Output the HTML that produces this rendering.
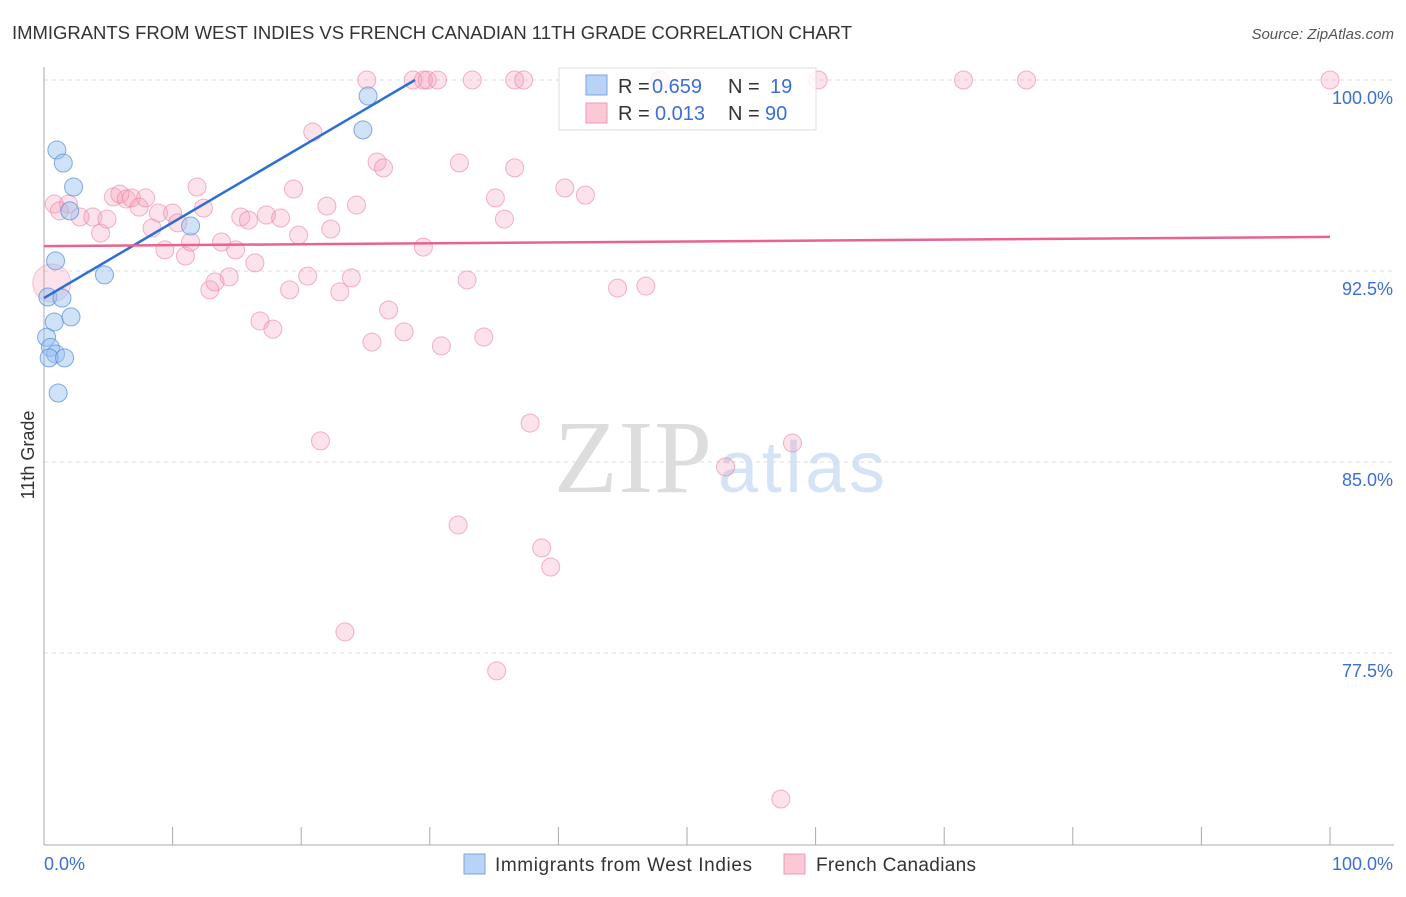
<!DOCTYPE html>
<html><head><meta charset="utf-8"><style>
body{margin:0;background:#fff;font-family:"Liberation Sans",sans-serif}
svg text{font-family:"Liberation Sans",sans-serif}
</style></head><body>
<svg width="1406" height="892" viewBox="0 0 1406 892">
<text x="12" y="39" font-size="18.5" fill="#333" textLength="840">IMMIGRANTS FROM WEST INDIES VS FRENCH CANADIAN 11TH GRADE CORRELATION CHART</text>
<text x="1394" y="39" font-size="15" fill="#555" font-style="italic" text-anchor="end">Source: ZipAtlas.com</text>
<text x="712" y="492" font-size="104" fill="#ddd" text-anchor="end" style="font-family:'Liberation Serif',serif" textLength="158">ZIP</text>
<text x="718" y="492" font-size="72" fill="#d4e3f5" textLength="167">atlas</text>
<g id="grid"></g>
<g id="axes"></g>
<g id="pts"></g>
<g id="lines"></g>
<text transform="translate(34,455) rotate(-90)" font-size="18" fill="#333" text-anchor="middle">11th Grade</text>
<text x="44" y="870" font-size="18" fill="#3b6fd4">0.0%</text>
<text x="1393" y="870" font-size="18" fill="#3b6fd4" text-anchor="end">100.0%</text>
<g>
<rect x="559" y="68" width="257" height="62" fill="rgba(255,255,255,0.8)" stroke="#ddd"/>
<rect x="586" y="75" width="21" height="20" fill="#b8d3f5" stroke="#7aa6e0"/>
<rect x="586" y="103" width="21" height="20" fill="#fbc8d6" stroke="#ee9ab4"/>
<text x="618" y="93" font-size="20" fill="#333">R =</text>
<text x="652" y="93" font-size="20" fill="#3b6fd4">0.659</text>
<text x="728" y="93" font-size="20" fill="#333">N =</text>
<text x="770" y="93" font-size="20" fill="#3b6fd4">19</text>
<text x="618" y="120" font-size="20" fill="#333">R =</text>
<text x="655" y="120" font-size="20" fill="#3b6fd4">0.013</text>
<text x="728" y="120" font-size="20" fill="#333">N =</text>
<text x="765" y="120" font-size="20" fill="#3b6fd4">90</text>
</g>
<g>
<rect x="464" y="854" width="21" height="20" fill="#b8d3f5" stroke="#7aa6e0"/>
<text x="495" y="871" font-size="19" fill="#333" textLength="257">Immigrants from West Indies</text>
<rect x="784" y="854" width="21" height="20" fill="#fbc8d6" stroke="#ee9ab4"/>
<text x="816" y="871" font-size="19" fill="#333" textLength="160">French Canadians</text>
</g>
</svg>
<script>
const yTicks=[100,92.5,85,77.5];
const yTickLabels=["100.0%","92.5%","85.0%","77.5%"];
const xTicks=[0,10,20,30,40,50,60,70,80,90,100];
const blueX=[25.2,24.8,1.0,1.5,2.3,2.0,11.4,0.9,4.7,0.3,1.4,0.8,2.1,0.2,0.5,0.9,0.4,1.6,1.1];
const blueY=[99.37,98.04,97.25,96.74,95.8,94.86,94.27,92.9,92.35,91.48,91.44,90.5,90.7,89.9,89.5,89.24,89.09,89.09,87.71];
const pinkX=[25.1,28.7,29.5,29.8,30.6,33.3,36.6,37.3,47.9,60.2,71.5,76.4,100,20.9,25.9,26.4,32.3,36.6,0.8,1.9,1.2,2.8,3.8,4.4,4.9,5.4,5.9,6.4,6.8,7.4,7.9,8.4,8.9,9.4,10.0,10.4,11.0,11.4,11.9,12.4,12.9,13.3,13.8,14.4,14.9,15.3,15.9,16.4,16.8,17.3,17.8,18.4,19.1,19.4,19.8,20.5,21.5,22.0,22.3,23.0,23.4,23.9,24.3,25.5,26.8,28.0,29.5,30.9,32.2,32.9,34.2,35.1,35.2,35.8,37.8,38.7,39.4,40.5,42.1,44.6,46.8,53.0,57.3,58.2];
const pinkY=[100,100,100,100,100,100,100,100,100,100,100,100,100,97.96,96.78,96.55,96.74,96.55,95.13,95.13,94.86,94.62,94.62,93.99,94.54,95.41,95.52,95.33,95.37,95.01,95.37,94.19,94.78,93.33,94.78,94.39,93.09,93.64,95.80,94.97,91.76,92.07,93.64,92.27,93.33,94.62,94.50,92.82,90.54,94.70,90.22,94.58,91.76,95.72,93.91,92.30,85.83,95.05,94.15,91.68,78.33,92.23,95.09,89.71,90.97,90.11,93.44,89.56,82.53,92.15,89.91,95.37,76.80,94.54,86.53,81.63,80.88,95.76,95.48,91.83,91.91,84.81,71.77,85.75];
const bigPink=[0.6,92.03];
const blueTrend=[[0,91.44],[28.85,100]];
const pinkTrend=[[0,93.48],[100,93.84]];
const NS="http://www.w3.org/2000/svg";
const X=v=>44+v*12.86, Y=v=>80+(100-v)*25.47;
function mk(t,a,p){const e=document.createElementNS(NS,t);for(const k in a)e.setAttribute(k,a[k]);p.appendChild(e);return e;}
const g=document.getElementById('grid'),ax=document.getElementById('axes'),pts=document.getElementById('pts'),ln=document.getElementById('lines');
yTicks.forEach((v,i)=>{
 const l=mk('line',{x1:44,x2:1394,y1:Y(v),y2:Y(v),stroke:'#ddd','stroke-dasharray':'4 4'},g);
 
 
 const t=mk('text',{x:1393,y:Y(v)+24,'font-size':18,fill:'#3b6fd4','text-anchor':'end'},g);
 t.textContent=yTickLabels[i];
 
 
});
const yl=mk('line',{x1:44,x2:44,y1:67,y2:845,stroke:'#aaa'},ax);


const xl=mk('line',{x1:44,x2:1394,y1:845,y2:845,stroke:'#aaa'},ax);


xTicks.forEach(v=>{
 const t=mk('line',{x1:X(v),x2:X(v),y1:827,y2:845,stroke:'#aaa'},ax);
 
 
});
pinkX.forEach((v,i)=>{
 const c=mk('circle',{cx:X(v),cy:Y(pinkY[i]),r:9,fill:'rgba(246,160,187,0.3)',stroke:'rgba(235,130,165,0.6)','stroke-width':1},pts);
 
 
});
const bp=mk('circle',{cx:X(bigPink[0]),cy:Y(bigPink[1]),r:19,fill:'rgba(246,160,187,0.3)',stroke:'rgba(235,130,165,0.45)'},pts);


blueX.forEach((v,i)=>{
 const c=mk('circle',{cx:X(v),cy:Y(blueY[i]),r:9,fill:'rgba(150,190,240,0.45)',stroke:'rgba(80,140,220,0.7)','stroke-width':1},pts);
 
 
});
const bl=mk('line',{x1:X(blueTrend[0][0]),y1:Y(blueTrend[0][1]),x2:X(blueTrend[1][0]),y2:Y(blueTrend[1][1]),stroke:'#2e6fd6','stroke-width':2.5},ln);


const pl=mk('line',{x1:X(pinkTrend[0][0]),y1:Y(pinkTrend[0][1]),x2:X(pinkTrend[1][0]),y2:Y(pinkTrend[1][1]),stroke:'#e8648e','stroke-width':2.5},ln);


</script>
</body></html>
